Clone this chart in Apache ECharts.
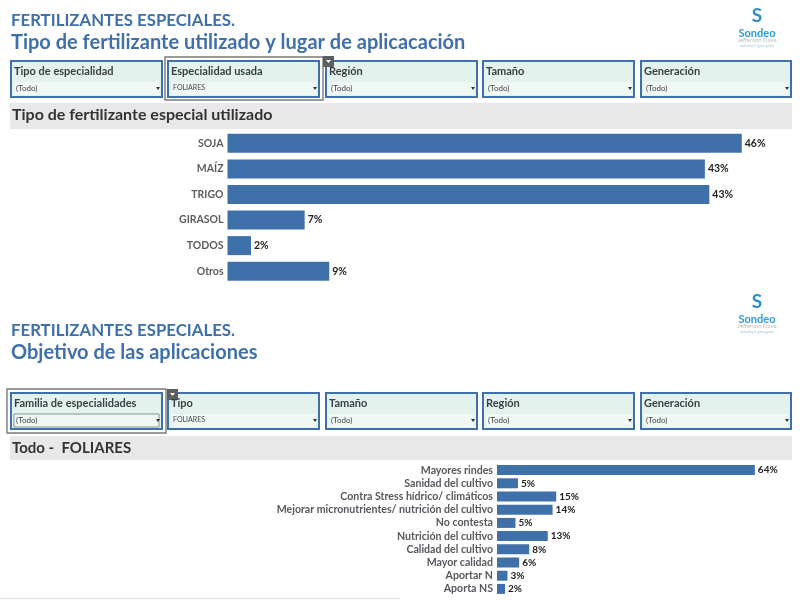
<!DOCTYPE html>
<html><head><meta charset="utf-8">
<style>html,body{margin:0;background:#fff}#c{width:800px;height:601px;filter:blur(0.45px)}</style>
<script src="https://cdn.jsdelivr.net/npm/echarts@6/dist/echarts.min.js"></script></head>
<body><div id="c"></div>
<script>
const cropCategories = ['SOJA','MAÍZ','TRIGO','GIRASOL','TODOS','Otros'];
const cropValues = [46, 42.7, 43.1, 6.9, 2.1, 9.1];
const goalCategories = ['Mayores rindes','Sanidad del cultivo','Contra Stress hídrico/ climáticos','Mejorar micronutrientes/ nutrición del cultivo','No contesta','Nutrición del cultivo','Calidad del cultivo','Mayor calidad','Aportar N','Aporta NS'];
const goalValues = [64, 5.2, 14.7, 13.8, 4.6, 12.6, 8, 5.5, 2.6, 2];
const topFilters = [['Tipo de especialidad','(Todo)'],['Especialidad usada','FOLIARES'],['Región','(Todo)'],['Tamaño','(Todo)'],['Generación','(Todo)']];
const bottomFilters = [['Familia de especialidades','(Todo)'],['Tipo','FOLIARES'],['Tamaño','(Todo)'],['Región','(Todo)'],['Generación','(Todo)']];
const titleMain = 'FERTILIZANTES ESPECIALES.';
const topSubtitle = 'Tipo de fertilizante utilizado y lugar de aplicacación';
const bottomSubtitle = 'Objetivo de las aplicaciones';
const topHeader = 'Tipo de fertilizante especial utilizado';
const bottomHeader = 'Todo -  FOLIARES';

const FONT = 'Lato, "Open Sans", sans-serif';
const BLUE = '#3f70a9';
const boxX = [[11,162],[168,319],[326,477],[483,634],[641,791]];
const g = [];
const txt = (x,y,text,size,color,weight,align) => g.push({type:'text',x,y,silent:true,z:5,style:{text,fontFamily:FONT,fontSize:size,fill:color,fontWeight:weight||'normal',align:align||'left',verticalAlign:'middle'}});
const rect = (x,y,w,h,fill,stroke,lw,z) => g.push({type:'rect',shape:{x,y,width:w,height:h},silent:true,z:z||1,style:{fill:fill||'transparent',stroke:stroke||null,lineWidth:lw||0}});

function filters(list, top, darkField){
  list.forEach((f,i)=>{
    const [a,b]=boxX[i], w=b-a;
    rect(a,top,w,36,'#e4f2ee',BLUE,2);
    rect(a+3,top+21,w-6,13,'#f0f8f6', (darkField&&i===0)?'#5a6a70':null,(darkField&&i===0)?0.7:0);
    txt(a+3,top+10,f[0],11,'#3a3f42','bold');
    txt(a+5,top+27,f[1],f[1]==='(Todo)'?8:7,'#444');
    g.push({type:'polygon',shape:{points:[[b-6,top+26],[b-2,top+26],[b-4,top+29]]},silent:true,z:5,style:{fill:'#333'}});
  });
}
function frame(x,y,w,h,tabX,tabY){
  rect(x,y,w,h,null,'#77797b',1.4,3);
  rect(tabX,tabY,11,11,'#5c5e60',null,0,4);
  g.push({type:'polygon',shape:{points:[[tabX+3,tabY+4],[tabX+8,tabY+4],[tabX+5.5,tabY+7]]},silent:true,z:5,style:{fill:'#fff'}});
}
function logo(y){
  txt(757,y,'S',19,'#2f8fc8','bold','center');
  txt(757,y+17,'Sondeo',11,'#2b9ad6','bold','center');
  txt(757,y+24,'Jefferson Dave',6,'#b9bdc0','normal','center');
  txt(757,y+30,'marketing & agronegocios',3,'#9fc4dc','normal','center');
}
txt(11,21,titleMain,16.8,BLUE,'bold');
txt(11,43,topSubtitle,20,BLUE,'bold');
txt(11,331,titleMain,16.8,BLUE,'bold');
txt(11,353,bottomSubtitle,20,BLUE,'bold');
filters(topFilters,61,false);
filters(bottomFilters,393,true);
frame(165,57,158,43,323,56);
frame(7,389,159,44,167,389);
rect(10,103,782,26,'#e8e8e8');
rect(10,436,782,24,'#e8e8e8');
txt(12,115,topHeader,16,'#333','bold');
txt(12,448,bottomHeader,15,'#333','bold');
logo(16);
logo(302);
rect(0,598,400,1,'#dcdcdc');

const pct = p => Math.round(p.value)+'%';
function axes(cats,idx,size,color,max){
  return {
    x:{type:'value',gridIndex:idx,min:0,max,show:false},
    y:{type:'category',gridIndex:idx,data:cats,inverse:true,axisLine:{show:false},axisTick:{show:false},
       axisLabel:{interval:0,fontFamily:FONT,fontSize:size,color,fontWeight:'bold',margin:4}}
  };
}
const a1=axes(cropCategories,0,10.5,'#5a5d60',50), a2=axes(goalCategories,1,10.6,'#55585c',70);
const bar=(data,idx,w,size)=>({type:'bar',xAxisIndex:idx,yAxisIndex:idx,data,barWidth:w,itemStyle:{color:BLUE},
  label:{show:true,position:'right',distance:3,formatter:pct,fontFamily:FONT,fontSize:size,fontWeight:'bold',color:'#222'},silent:true});
const chart=echarts.init(document.getElementById('c'));
chart.setOption({
  animation:false,backgroundColor:'#fff',
  grid:[{left:227.5,top:130.5,width:559,height:153.5},{left:497,top:463.5,width:282,height:132}],
  xAxis:[a1.x,a2.x],yAxis:[a1.y,a2.y],
  series:[bar(cropValues,0,19,10.5),bar(goalValues,1,10,10)],
  graphic:g
});
</script></body></html>
